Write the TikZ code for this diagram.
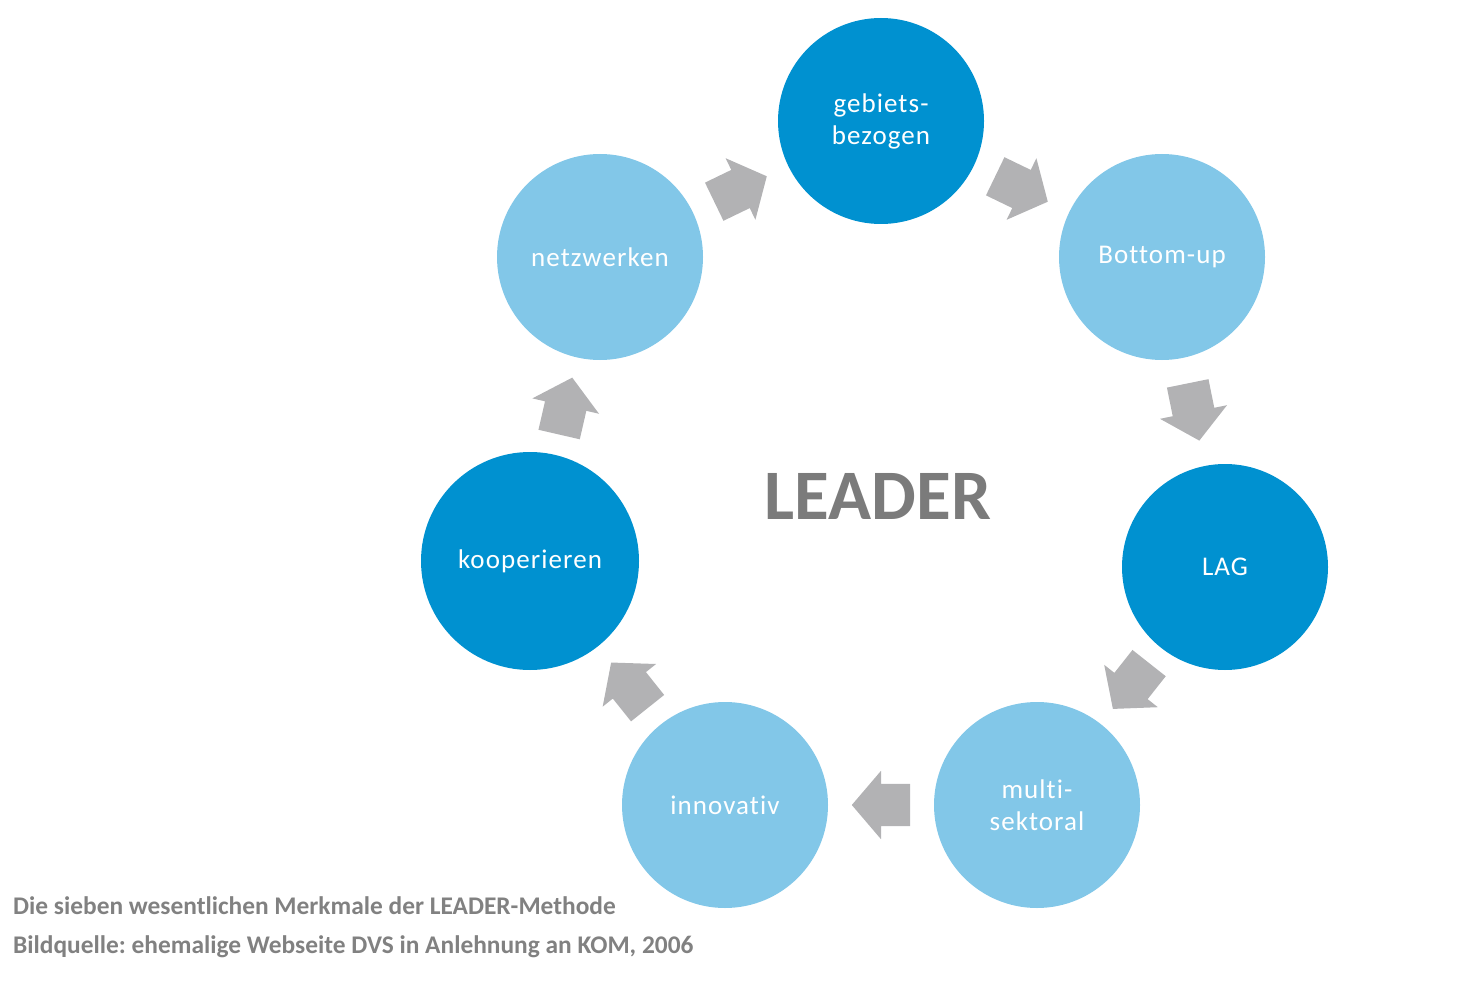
\documentclass[tikz,border=0pt]{standalone}
\usepackage{fontspec}
\setmainfont{Carlito}[Ligatures=NoCommon]
\newfontfamily\circfont{Carlito}[LetterSpace=4,Ligatures=NoCommon]
\usetikzlibrary{calc}
\frenchspacing
\definecolor{darkblue}{HTML}{0091D0}
\definecolor{lightblue}{HTML}{82C7E8}
\definecolor{arrowgray}{HTML}{B2B2B4}
\definecolor{titlegray}{HTML}{7B7B7B}
\definecolor{capgray}{HTML}{818181}
\tikzset{
  circ/.style={circle, inner sep=0pt, minimum size=206pt, text=white,
    font=\circfont\fontsize{27}{32}\selectfont, align=center},
  darkc/.style={circ, fill=darkblue},
  lightc/.style={circ, fill=lightblue},
  arrowbox/.style={rectangle, inner sep=0pt, minimum width=58pt, minimum height=68pt,
    sloped, allow upside down, pos=0.5},
  caption/.style={anchor=base west, inner sep=0pt, text=capgray,
    font=\bfseries\fontsize{25.4}{28}\selectfont}
}
\begin{document}
\begin{tikzpicture}[x=1pt,y=-1pt]
\useasboundingbox (0,0) rectangle (1461,1000);
\node[darkc]  (geb) at (881,121) {gebiets-\\bezogen};
\node[lightc] (bot) at (1162,257) {Bottom-up};
\node[darkc]  (lag) at (1225,567) {LAG};
\node[lightc] (mul) at (1037,805) {multi-\\sektoral};
\node[lightc] (inn) at (725,805) {innovativ};
\node[darkc, minimum size=218pt] (koo) at (530,561) {kooperieren};
\node[lightc] (net) at (600,257) {netzwerken};
\node[text=titlegray, font=\bfseries\fontsize{71}{71}\selectfont] (title) at (878,496) {LEADER};
\foreach \s/\t/\n in {net/geb/a1, geb/bot/a2, bot/lag/a3, lag/mul/a4, mul/inn/a5, inn/koo/a6, koo/net/a7}{
  \path (\s) -- node[arrowbox] (\n) {} (\t);
  \fill[arrowgray] (\n.east) -- (\n.north) -- ($(\n.center)!0.62!(\n.north)$)
    -- ($(\n.west)!0.62!(\n.north west)$) -- ($(\n.west)!0.62!(\n.south west)$)
    -- ($(\n.center)!0.62!(\n.south)$) -- (\n.south) -- cycle;
}
\node[caption] (cap1) at (13,914) {Die sieben wesentlichen Merkmale der LEADER-Methode};
\node[caption] (cap2) at (13,953) {Bildquelle: ehemalige Webseite DVS in Anlehnung an KOM, 2006};
\end{tikzpicture}
\end{document}
